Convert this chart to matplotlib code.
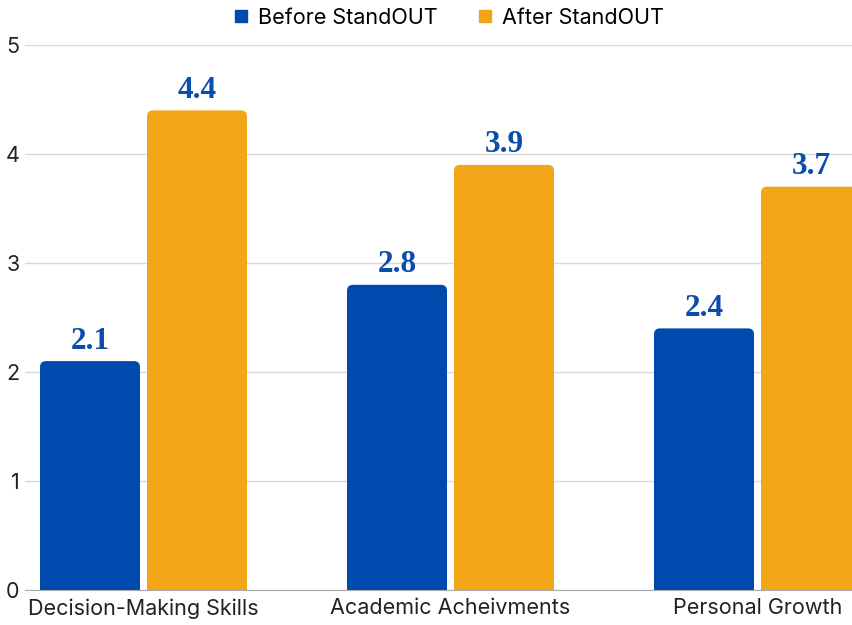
import numpy as np
import matplotlib
matplotlib.use("Agg")
from matplotlib import pyplot as plt
from matplotlib.patches import FancyBboxPatch
from matplotlib.lines import Line2D

categories = ["Decision-Making Skills", "Academic Acheivments", "Personal Growth"]
before = [2.1, 2.8, 2.4]
after = [4.4, 3.9, 3.7]
series_names = ["Before StandOUT", "After StandOUT"]
colors = ["#004AAD", "#F2A516"]

plt.rcParams['font.family'] = ['Inter', 'DejaVu Sans']

fig = plt.figure(figsize=(8.53, 6.25), dpi=100)
ax = fig.add_axes([25 / 853, 35 / 625, 828 / 853, 545 / 625])

x = np.arange(len(categories))
w = 100 / 307
off = 53.5 / 307

# px -> data units for the corner radius
rx = 6 / 307
ry = 6 / 109

for vals, dx, col, name in [(before, -off, colors[0], series_names[0]),
                            (after, off, colors[1], series_names[1])]:
    bars = ax.bar(x + dx, vals, w, color=col, label=name)
    for b, v in zip(bars, vals):
        bx, bw, bh = b.get_x(), b.get_width(), b.get_height()
        b.set_visible(False)
        p = FancyBboxPatch((bx, -0.3), bw, bh + 0.3,
                           boxstyle="round,pad=0,rounding_size=%f" % rx,
                           mutation_aspect=ry / rx, fc=col, ec="none", zorder=3)
        ax.add_patch(p)
        ax.annotate("%.1f" % v, (bx + bw / 2, bh), xytext=(0, 4),
                    textcoords="offset points", ha="center", va="bottom",
                    fontsize=22.5, fontweight="bold", color="#0B4DAE",
                    family="Liberation Serif")

ax.set_xlim((25 - 143.5) / 307, (853 - 143.5) / 307)
ax.set_ylim(0, 5)
ax.set_yticks(range(6))
ax.set_xticks(x)
ax.set_xticklabels(categories, fontsize=15.5, color="#222222")
ax.tick_params(axis="y", length=0, pad=4, labelsize=15.5, labelcolor="#222222")
ax.tick_params(axis="x", length=0, pad=6)
ax.grid(axis="y", color="#d9d9d9", lw=1, zorder=0)
ax.set_axisbelow(True)
for s in ["top", "right", "left"]:
    ax.spines[s].set_visible(False)
ax.spines["bottom"].set_color("#aaaaaa")
ax.spines["bottom"].set_zorder(4)

hs = [Line2D([], [], marker="s", ls="none", color=c, markersize=8) for c in colors]
fig.legend(hs, series_names, loc="center", bbox_to_anchor=(447 / 853, 1 - 18 / 625),
           ncol=2, frameon=False, fontsize=15.5, handletextpad=0.3, columnspacing=1.7,
           handlelength=1.0)

fig.savefig("out.png", dpi=100)
